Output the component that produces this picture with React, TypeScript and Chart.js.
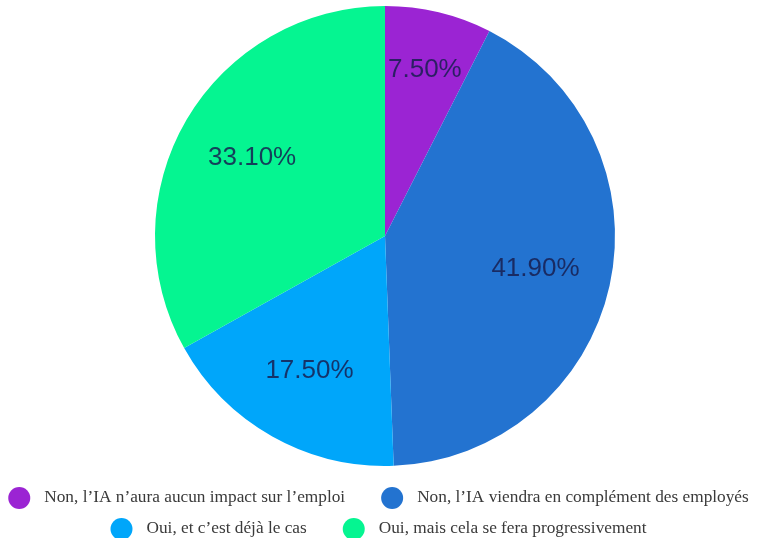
import React, { useEffect, useRef } from "react";
import { Chart, registerables } from "chart.js";

Chart.register(...registerables);

const categories = [
  "Non, l’IA n’aura aucun impact sur l’emploi",
  "Non, l’IA viendra en complément des employés",
  "Oui, et c’est déjà le cas",
  "Oui, mais cela se fera progressivement",
];
const values = [7.5, 41.9, 17.5, 33.1];
const valueLabels = ["7.50%", "41.90%", "17.50%", "33.10%"];
const colors = ["#9B24D3", "#2373D0", "#00A6FA", "#05F591"];

const sliceLabelPlugin = {
  id: "sliceLabels",
  afterDatasetsDraw(chart: any) {
    const ctx = chart.ctx;
    const meta = chart.getDatasetMeta(0);
    ctx.save();
    ctx.font = '26px "Liberation Sans", Arial, sans-serif';
    ctx.fillStyle = "rgba(24, 30, 80, 0.85)";
    ctx.textAlign = "center";
    ctx.textBaseline = "middle";
    meta.data.forEach((arc: any, i: number) => {
      const p = arc.getProps(["x", "y", "startAngle", "endAngle", "outerRadius"], true);
      const mid = (p.startAngle + p.endAngle) / 2;
      const span = p.endAngle - p.startAngle;
      const tw = ctx.measureText(valueLabels[i]).width;
      let r = p.outerRadius * 0.67;
      const chord = 2 * Math.sin(Math.min(span, Math.PI) / 2);
      const need = (tw + 6) / chord;
      if (need > r) r = Math.min(need, p.outerRadius * 0.85);
      ctx.fillText(valueLabels[i], p.x + Math.cos(mid) * r, p.y + Math.sin(mid) * r);
    });
    ctx.restore();
  },
};

const legendPlugin = {
  id: "customLegend",
  afterDraw(chart: any) {
    const ctx = chart.ctx;
    const fontSize = 17.3;
    const radius = 11;
    const gapText = 14;
    const gapItem = 36;
    ctx.save();
    ctx.font = `${fontSize}px "Liberation Serif", "Times New Roman", serif`;
    const items = categories.map((t, i) => ({
      text: t,
      color: colors[i],
      w: radius * 2 + gapText + ctx.measureText(t).width,
    }));
    const maxW = chart.width - 10;
    const rows: any[][] = [];
    let cur: any[] = [];
    let curW = 0;
    items.forEach((it) => {
      const add = cur.length ? gapItem + it.w : it.w;
      if (cur.length && curW + add > maxW) {
        rows.push(cur);
        cur = [it];
        curW = it.w;
      } else {
        cur.push(it);
        curW += add;
      }
    });
    if (cur.length) rows.push(cur);
    const top = chart.chartArea.bottom;
    rows.forEach((row, ri) => {
      const rowW = row.reduce((s, it, k) => s + it.w + (k ? gapItem : 0), 0);
      let x = (chart.width - rowW) / 2;
      const y = top + 31.5 + ri * 31;
      row.forEach((it) => {
        ctx.beginPath();
        ctx.fillStyle = it.color;
        ctx.arc(x + radius, y + 0.5, radius, 0, Math.PI * 2);
        ctx.fill();
        ctx.fillStyle = "#3a3a3a";
        ctx.textAlign = "left";
        ctx.textBaseline = "middle";
        ctx.fillText(it.text, x + radius * 2 + gapText, y);
        x += it.w + gapItem;
      });
    });
    ctx.restore();
  },
};

export default function App() {
  const ref = useRef<HTMLCanvasElement>(null);
  useEffect(() => {
    if (!ref.current) return;
    const chart = new Chart(ref.current, {
      type: "pie",
      data: {
        labels: categories,
        datasets: [
          {
            data: values,
            backgroundColor: colors,
            borderWidth: 0,
          },
        ],
      },
      options: {
        responsive: false,
        animation: false,
        layout: { padding: { top: 6, bottom: 72, left: 13, right: 0 } },
        plugins: {
          legend: { display: false },
          tooltip: { enabled: false },
        },
      },
      plugins: [sliceLabelPlugin, legendPlugin],
    });
    return () => chart.destroy();
  }, []);
  return (
    <div style={{ position: "fixed", left: 0, top: 0, width: 757, height: 538, background: "#fff" }}>
      <canvas ref={ref} width={757} height={538} style={{ display: "block" }} />
    </div>
  );
}
